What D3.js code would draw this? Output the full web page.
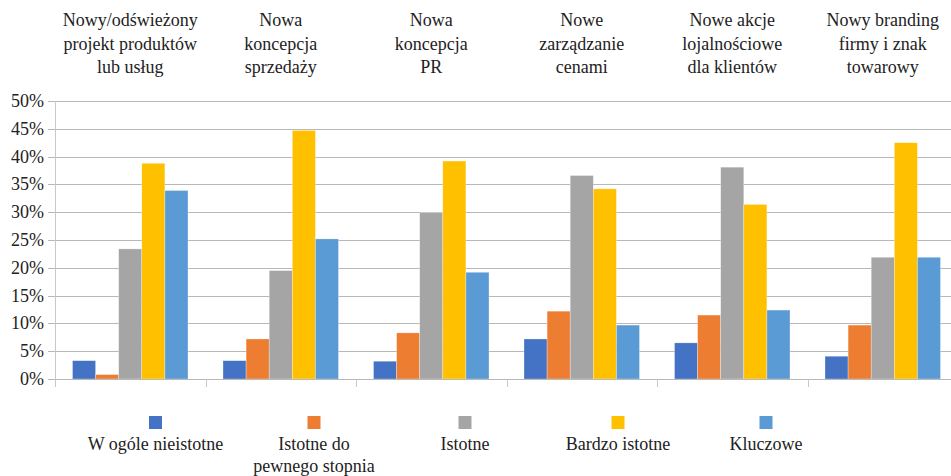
<!DOCTYPE html>
<html>
<head>
<meta charset="utf-8">
<script src="https://cdn.jsdelivr.net/npm/d3@7"></script>
<style>
  body { margin: 0; background: #fff; }
  text { font-family: "Liberation Serif", "Times New Roman", serif; fill: #222; }
</style>
</head>
<body>
<div id="chart"></div>
<script>
// data
var categories = [
  ["Nowy/odświeżony", "projekt produktów", "lub usług"],
  ["Nowa", "koncepcja", "sprzedaży"],
  ["Nowa", "koncepcja", "PR"],
  ["Nowe", "zarządzanie", "cenami"],
  ["Nowe akcje", "lojalnościowe", "dla klientów"],
  ["Nowy branding", "firmy i znak", "towarowy"]
];
var seriesNames = [["W ogóle nieistotne"], ["Istotne do", "pewnego stopnia"], ["Istotne"], ["Bardzo istotne"], ["Kluczowe"]];
var wOgole   = [3.3, 3.3, 3.2, 7.2, 6.5, 4.1];
var doStopnia = [0.8, 7.2, 8.3, 12.2, 11.5, 9.7];
var istotne  = [23.4, 19.5, 29.9, 36.6, 38.1, 21.9];
var bardzo   = [38.8, 44.7, 39.2, 34.2, 31.4, 42.5];
var kluczowe = [33.9, 25.2, 19.2, 9.7, 12.4, 21.9];
var yTicks = [0, 5, 10, 15, 20, 25, 30, 35, 40, 45, 50];
var colors = ["#4472C4", "#ED7D31", "#A5A5A5", "#FFC000", "#5B9BD5"];

var series = [wOgole, doStopnia, istotne, bardzo, kluczowe];

var svgWidth = 951, svgHeight = 476;
var plotLeft = 55, plotRight = 958, plotTop = 101, plotBottom = 379;

var svg = d3.select("#chart").append("svg")
  .attr("width", svgWidth)
  .attr("height", svgHeight);

var x = d3.scaleBand()
  .domain(d3.range(categories.length))
  .range([plotLeft, plotRight]);

var xInner = d3.scaleBand()
  .domain(d3.range(series.length))
  .range([17.5, x.bandwidth() - 17.5]);

var y = d3.scaleLinear()
  .domain([0, 50])
  .range([plotBottom, plotTop]);

// gridlines
svg.append("g")
  .selectAll("line")
  .data(yTicks.filter(d => d > 0))
  .enter().append("line")
  .attr("x1", plotLeft - 7)
  .attr("x2", svgWidth)
  .attr("y1", d => Math.round(y(d)) + 0.5)
  .attr("y2", d => Math.round(y(d)) + 0.5)
  .attr("stroke", "#b8b8b8")
  .attr("stroke-width", 1);

// y axis labels
svg.append("g")
  .selectAll("text")
  .data(yTicks)
  .enter().append("text")
  .attr("x", 44)
  .attr("y", d => y(d) + 6)
  .attr("text-anchor", "end")
  .style("font-size", "18px")
  .text(d => d + "%");

// bars
var groups = svg.append("g")
  .selectAll("g")
  .data(series)
  .enter().append("g")
  .attr("fill", (d, i) => colors[i]);

groups.each(function(vals, si) {
  d3.select(this).selectAll("rect")
    .data(vals)
    .enter().append("rect")
    .attr("x", (d, ci) => x(ci) + xInner(si))
    .attr("width", xInner.bandwidth())
    .attr("y", d => y(d))
    .attr("height", d => plotBottom - y(d))
    .attr("stroke", "#fff")
    .attr("stroke-opacity", 0.5)
    .attr("stroke-width", 0.6);
});

// axes lines
svg.append("line")
  .attr("x1", plotLeft - 7).attr("x2", svgWidth)
  .attr("y1", plotBottom + 0.5).attr("y2", plotBottom + 0.5)
  .attr("stroke", "#b8b8b8");
svg.append("line")
  .attr("x1", plotLeft + 0.5).attr("x2", plotLeft + 0.5)
  .attr("y1", plotTop).attr("y2", plotBottom + 8)
  .attr("stroke", "#c8c8c8");
svg.append("g")
  .selectAll("line")
  .data(d3.range(1, categories.length))
  .enter().append("line")
  .attr("x1", d => Math.round(x(d)) + 0.5)
  .attr("x2", d => Math.round(x(d)) + 0.5)
  .attr("y1", plotBottom).attr("y2", plotBottom + 8)
  .attr("stroke", "#c8c8c8");

// category labels on top
var catLabels = svg.append("g")
  .selectAll("text")
  .data(categories)
  .enter().append("text")
  .attr("text-anchor", "middle")
  .style("font-size", "18px")
  .attr("transform", (d, i) => `translate(${x(i) + x.bandwidth() / 2}, 26)`);
catLabels.selectAll("tspan")
  .data(d => d)
  .enter().append("tspan")
  .attr("x", 0)
  .attr("y", (d, i) => i * 23.5)
  .text(d => d);

// legend
var legendX = [155.5, 314, 465, 618, 766];
var legend = svg.append("g")
  .selectAll("g")
  .data(seriesNames)
  .enter().append("g")
  .attr("transform", (d, i) => `translate(${legendX[i]}, 0)`);
legend.append("rect")
  .attr("x", -6.5).attr("y", 416)
  .attr("width", 13).attr("height", 13)
  .attr("fill", (d, i) => colors[i]);
legend.append("text")
  .attr("text-anchor", "middle")
  .style("font-size", "18px")
  .selectAll("tspan")
  .data(d => d)
  .enter().append("tspan")
  .attr("x", 0)
  .attr("y", (d, i) => 450 + i * 22)
  .text(d => d);
</script>
</body>
</html>
